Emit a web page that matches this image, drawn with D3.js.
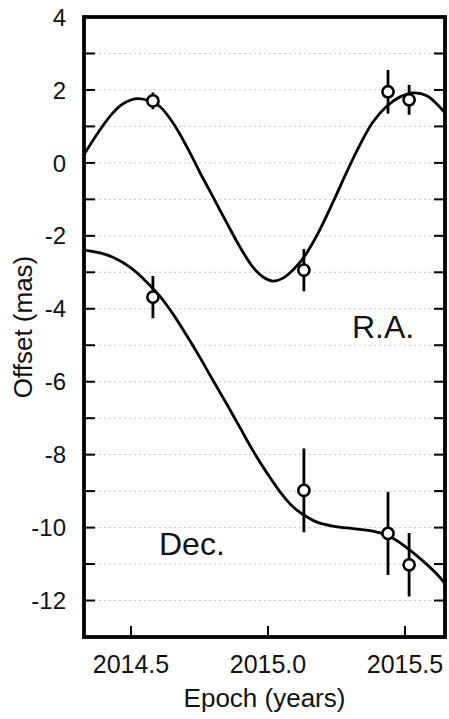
<!DOCTYPE html>
<html>
<head>
<meta charset="utf-8">
<script src="https://cdn.jsdelivr.net/npm/d3@7"></script>
<style>
  html, body { margin: 0; padding: 0; background: #fff; }
  svg { display: block; font-family: "Liberation Sans", Arial, Helvetica, sans-serif; }
</style>
</head>
<body>
<svg id="chart" width="449" height="719"></svg>
<script>
// Astrometric observations: epoch (years) and offsets (mas) with 1-sigma errors
const obsEpoch  = [2014.580, 2015.131, 2015.438, 2015.515];
const raOffset  = [1.70, -2.94, 1.95, 1.73];
const raError   = [0.23, 0.58, 0.60, 0.41];
const decOffset = [-3.68, -8.98, -10.16, -11.02];
const decError  = [0.58, 1.15, 1.14, 0.87];

// Best-fit parallax + proper-motion model, sampled along the epoch range
const raFitEpoch  = [2014.328, 2014.387, 2014.434, 2014.471, 2014.522, 2014.558, 2014.606, 2014.653, 2014.704, 2014.752,
                     2014.799, 2014.850, 2014.898, 2014.945, 2014.982, 2015.018, 2015.055, 2015.091, 2015.128, 2015.179,
                     2015.237, 2015.288, 2015.336, 2015.383, 2015.434, 2015.482, 2015.529, 2015.580, 2015.646];
const raFitOffset = [0.22, 0.91, 1.37, 1.62, 1.76, 1.72, 1.54, 1.10, 0.44, -0.27,
                     -0.93, -1.65, -2.31, -2.86, -3.13, -3.24, -3.16, -2.94, -2.62, -1.98,
                     -1.08, -0.24, 0.50, 1.12, 1.56, 1.81, 1.92, 1.84, 1.37];
const decFitEpoch  = [2014.328, 2014.387, 2014.434, 2014.496, 2014.558, 2014.606, 2014.653, 2014.704, 2014.752, 2014.799,
                      2014.850, 2014.898, 2014.945, 2014.996, 2015.044, 2015.091, 2015.128, 2015.179, 2015.237, 2015.288,
                      2015.336, 2015.383, 2015.420, 2015.471, 2015.518, 2015.566, 2015.617, 2015.646];
const decFitOffset = [-2.39, -2.47, -2.59, -2.86, -3.27, -3.66, -4.14, -4.74, -5.34, -5.96,
                      -6.62, -7.26, -7.89, -8.50, -9.02, -9.43, -9.64, -9.85, -9.96, -10.01,
                      -10.05, -10.10, -10.17, -10.36, -10.62, -10.92, -11.28, -11.54];

const xTicks = [2014.5, 2015.0, 2015.5];
const xTickLabels = ["2014.5", "2015.0", "2015.5"];
const yLabelTicks = [-12, -10, -8, -6, -4, -2, 0, 2, 4];
const yMinorTicks = d3.range(-12, 4, 1);

const plot = { left: 84, right: 445, top: 17, bottom: 637 };

const x = d3.scaleLinear().domain([2014.3285, 2015.646]).range([plot.left, plot.right]);
const y = d3.scaleLinear().domain([-13, 4]).range([plot.bottom, plot.top]);

const svg = d3.select("#chart");

svg.append("defs").append("clipPath").attr("id", "plot-clip")
  .append("rect")
  .attr("x", plot.left).attr("y", plot.top)
  .attr("width", plot.right - plot.left).attr("height", plot.bottom - plot.top);

// dotted horizontal grid at every integer offset
svg.append("g").selectAll("line").data(yMinorTicks).join("line")
  .attr("x1", plot.left).attr("x2", plot.right)
  .attr("y1", d => y(d)).attr("y2", d => y(d))
  .attr("stroke", "#c8c8c8").attr("stroke-width", 1)
  .attr("stroke-dasharray", "2,3");

// model curves
const line = d3.line().x(d => x(d[0])).y(d => y(d[1])).curve(d3.curveCatmullRom.alpha(0.5));
const curves = svg.append("g").attr("clip-path", "url(#plot-clip)");
curves.append("path")
  .datum(raFitEpoch.map((e, i) => [e, raFitOffset[i]]))
  .attr("d", line).attr("fill", "none").attr("stroke", "#000").attr("stroke-width", 2.8);
curves.append("path")
  .datum(decFitEpoch.map((e, i) => [e, decFitOffset[i]]))
  .attr("d", line).attr("fill", "none").attr("stroke", "#000").attr("stroke-width", 2.8);

// observations with error bars
function drawSeries(values, errors) {
  const pts = obsEpoch.map((e, i) => ({ e, v: values[i], s: errors[i] }));
  const g = svg.append("g");
  g.selectAll("line").data(pts).join("line")
    .attr("x1", d => x(d.e)).attr("x2", d => x(d.e))
    .attr("y1", d => y(d.v + d.s)).attr("y2", d => y(d.v - d.s))
    .attr("stroke", "#000").attr("stroke-width", 2.8);
  g.selectAll("circle").data(pts).join("circle")
    .attr("cx", d => x(d.e)).attr("cy", d => y(d.v)).attr("r", 5.6)
    .attr("fill", "#fff").attr("stroke", "#000").attr("stroke-width", 2.6);
}
drawSeries(raOffset, raError);
drawSeries(decOffset, decError);

// frame
svg.append("rect")
  .attr("x", plot.left).attr("y", plot.top)
  .attr("width", plot.right - plot.left).attr("height", plot.bottom - plot.top)
  .attr("fill", "none").attr("stroke", "#000").attr("stroke-width", 3.8);

// inward ticks: left and right at every unit, bottom at the labelled epochs
const ticks = svg.append("g").attr("stroke", "#000").attr("stroke-width", 2);
ticks.selectAll("line.l").data(yMinorTicks).join("line").attr("class", "l")
  .attr("x1", plot.left).attr("x2", plot.left + 11)
  .attr("y1", d => y(d)).attr("y2", d => y(d));
ticks.selectAll("line.r").data(yMinorTicks).join("line").attr("class", "r")
  .attr("x1", plot.right).attr("x2", plot.right - 11)
  .attr("y1", d => y(d)).attr("y2", d => y(d));
ticks.selectAll("line.b").data(xTicks).join("line").attr("class", "b")
  .attr("x1", d => x(d)).attr("x2", d => x(d))
  .attr("y1", plot.bottom).attr("y2", plot.bottom - 11);

// tick labels
svg.append("g").selectAll("text").data(yLabelTicks).join("text")
  .attr("x", 66).attr("y", d => y(d)).attr("dy", "0.36em")
  .attr("text-anchor", "end").attr("font-size", 24).attr("fill", "#111")
  .text(d => d);
svg.append("g").selectAll("text").data(xTicks).join("text")
  .attr("x", d => x(d)).attr("y", 673)
  .attr("text-anchor", "middle").attr("font-size", 25).attr("fill", "#111")
  .text((d, i) => xTickLabels[i]);

// axis titles
svg.append("text")
  .attr("x", (plot.left + plot.right) / 2).attr("y", 707)
  .attr("text-anchor", "middle").attr("font-size", 26).attr("fill", "#111")
  .text("Epoch (years)");
svg.append("text")
  .attr("transform", `translate(32,${(plot.top + plot.bottom) / 2}) rotate(-90)`)
  .attr("text-anchor", "middle").attr("font-size", 26).attr("fill", "#111")
  .text("Offset (mas)");

// series labels
svg.append("text").attr("x", 352).attr("y", 338)
  .attr("font-size", 32).attr("fill", "#111").text("R.A.");
svg.append("text").attr("x", 159).attr("y", 555)
  .attr("font-size", 32).attr("fill", "#111").text("Dec.");
</script>
</body>
</html>
